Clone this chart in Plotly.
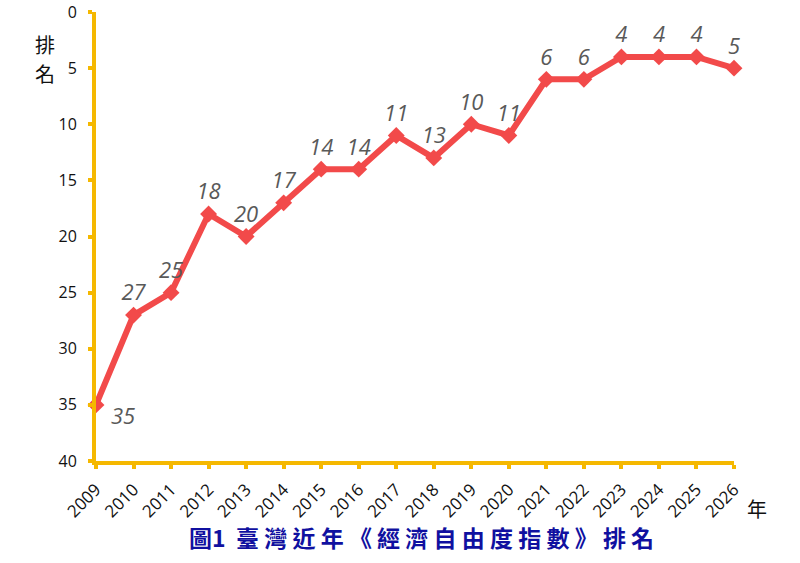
import plotly.graph_objects as go

years = [str(y) for y in range(2009, 2027)]
ranks = [35, 27, 25, 18, 20, 17, 14, 14, 11, 13, 10, 11, 6, 6, 4, 4, 4, 5]
title_head = "圖1"
title_rest = "臺灣近年《經濟自由度指數》排名"

axis_gold = "#F5B800"
line_red = "#F24A4A"
label_font = dict(family="Open Sans", size=22, color="#595959", style="italic")

fig = go.Figure()
fig.add_trace(go.Scatter(
    x=years, y=ranks,
    mode="lines+markers+text",
    line=dict(color=line_red, width=6),
    marker=dict(symbol="diamond", size=13, color=line_red),
    # first label sits below-right of its point, added separately
    text=[""] + [str(r) for r in ranks[1:]],
    textposition="top center",
    textfont=label_font,
    cliponaxis=False,
    showlegend=False,
))
fig.add_annotation(xref="x", yref="y", x=years.index(years[0]), y=ranks[0],
                   text=str(ranks[0]), showarrow=False,
                   xshift=27, yshift=-10, font=label_font)

fig.update_layout(
    width=800, height=563,
    margin=dict(l=96, r=66, t=12, b=102),
    paper_bgcolor="white", plot_bgcolor="white",
    font=dict(family="Open Sans", color="#222"),
)
fig.update_xaxes(
    type="category", range=[0, 17], automargin=False,
    showline=True, linecolor=axis_gold, linewidth=4,
    ticks="outside", tickcolor=axis_gold, ticklen=4, tickwidth=4,
    tickangle=-45, tickfont=dict(size=17, color="#111"), ticklabelstandoff=4,
    showgrid=False, zeroline=False,
)
fig.update_yaxes(
    range=[40, 0], tickvals=[0, 5, 10, 15, 20, 25, 30, 35, 40], automargin=False,
    showline=True, linecolor=axis_gold, linewidth=4,
    ticks="outside", tickcolor=axis_gold, ticklen=4, tickwidth=4,
    tickfont=dict(size=16, color="#111"), ticklabelstandoff=8,
    showgrid=False, zeroline=False,
)

side_font = dict(family="Noto Sans CJK TC", size=20, color="#111")
fig.add_annotation(text="排", xref="paper", yref="paper", x=-0.08, y=0.927,
                   xanchor="center", yanchor="middle", showarrow=False, font=side_font)
fig.add_annotation(text="名", xref="paper", yref="paper", x=-0.08, y=0.862,
                   xanchor="center", yanchor="middle", showarrow=False, font=side_font)
fig.add_annotation(text="年", xref="paper", yref="paper", x=1.036, y=-0.105,
                   xanchor="center", yanchor="middle", showarrow=False, font=side_font)
fig.add_annotation(text="<b>" + title_head + "  " + " ".join(title_rest) + "</b>",
                   xref="paper", yref="paper", x=0.51, y=-0.169,
                   xanchor="center", yanchor="middle", showarrow=False,
                   font=dict(family="Noto Sans CJK TC", size=23, color="#1010A0"))

# drop the default 8px page margin so the figure sits at the window corner
fig.write_html("out.html", config={"displayModeBar": False},
               post_script="document.body.style.margin='0';")
